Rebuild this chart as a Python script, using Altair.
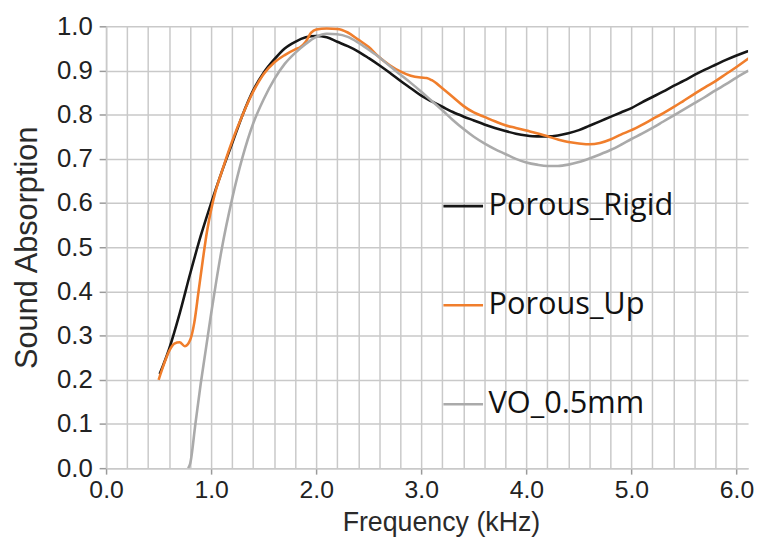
import altair as alt
import pandas as pd

# ---- data ----
rigid_f = [0.51, 0.6, 0.7, 0.8, 0.9, 1.0, 1.1, 1.2, 1.3, 1.4, 1.5, 1.6, 1.7, 1.8, 1.9, 2.0,
           2.1, 2.2, 2.3, 2.4, 2.5, 2.6, 2.7, 2.8, 2.9, 3.0, 3.1, 3.2, 3.3, 3.4, 3.5, 3.6,
           3.7, 3.8, 3.9, 4.0, 4.1, 4.2, 4.3, 4.4, 4.5, 4.6, 4.7, 4.8, 4.9, 5.0, 5.1, 5.2,
           5.3, 5.4, 5.5, 5.6, 5.7, 5.8, 5.9, 6.0, 6.1, 6.2]
rigid_a = [0.213, 0.27, 0.35, 0.44, 0.525, 0.60, 0.67, 0.735, 0.80, 0.855, 0.895, 0.925, 0.95,
           0.965, 0.975, 0.978, 0.975, 0.965, 0.955, 0.943, 0.928, 0.912, 0.895, 0.877, 0.86,
           0.843, 0.83, 0.818, 0.806, 0.796, 0.787, 0.778, 0.770, 0.763, 0.757, 0.753, 0.751,
           0.751, 0.753, 0.758, 0.765, 0.775, 0.785, 0.795, 0.805, 0.815, 0.828, 0.84, 0.852,
           0.865, 0.877, 0.89, 0.902, 0.913, 0.924, 0.934, 0.943, 0.951]

up_f = [0.50, 0.55, 0.6, 0.65, 0.7, 0.75, 0.8, 0.84, 0.88, 0.92, 0.96, 1.0, 1.04, 1.1, 1.2,
        1.3, 1.4, 1.5, 1.6, 1.7, 1.8, 1.85, 1.9, 1.95, 2.0, 2.1, 2.2, 2.3, 2.4, 2.5, 2.6,
        2.7, 2.8, 2.9, 3.0, 3.05, 3.1, 3.2, 3.3, 3.4, 3.5, 3.6, 3.7, 3.8, 3.9, 4.0, 4.1,
        4.2, 4.3, 4.4, 4.5, 4.6, 4.7, 4.8, 4.9, 5.0, 5.1, 5.2, 5.3, 5.4, 5.5, 5.6, 5.7,
        5.8, 5.9, 6.0, 6.1, 6.2]
up_a = [0.20, 0.235, 0.265, 0.282, 0.285, 0.276, 0.29, 0.33, 0.40, 0.47, 0.535, 0.585, 0.625,
        0.67, 0.74, 0.80, 0.852, 0.892, 0.918, 0.935, 0.948, 0.953, 0.965, 0.985, 0.993, 0.995,
        0.994, 0.986, 0.97, 0.953, 0.93, 0.912, 0.898, 0.888, 0.884, 0.883, 0.878, 0.86, 0.84,
        0.82, 0.805, 0.795, 0.785, 0.776, 0.770, 0.764, 0.758, 0.751, 0.744, 0.738, 0.735,
        0.733, 0.736, 0.744, 0.755, 0.765, 0.777, 0.79, 0.803, 0.817, 0.832, 0.847, 0.862,
        0.876, 0.892, 0.908, 0.925, 0.942]

vo_f = [0.78, 0.8, 0.85, 0.9, 0.95, 1.0, 1.05, 1.1, 1.2, 1.3, 1.4, 1.5, 1.6, 1.7, 1.8, 1.9,
        2.0, 2.1, 2.2, 2.3, 2.4, 2.5, 2.6, 2.7, 2.8, 2.9, 3.0, 3.1, 3.2, 3.3, 3.4, 3.5, 3.6,
        3.7, 3.8, 3.9, 4.0, 4.1, 4.2, 4.3, 4.4, 4.5, 4.6, 4.7, 4.8, 4.9, 5.0, 5.1, 5.2, 5.3,
        5.4, 5.5, 5.6, 5.7, 5.8, 5.9, 6.0, 6.1, 6.2]
vo_a = [0.0, 0.01, 0.10, 0.19, 0.27, 0.35, 0.425, 0.495, 0.61, 0.705, 0.78, 0.835, 0.88,
        0.915, 0.94, 0.96, 0.976, 0.983, 0.982, 0.976, 0.963, 0.947, 0.93, 0.91, 0.891, 0.872,
        0.852, 0.831, 0.81, 0.788, 0.768, 0.75, 0.735, 0.722, 0.711, 0.70, 0.692, 0.687,
        0.684, 0.684, 0.687, 0.693, 0.701, 0.71, 0.72, 0.732, 0.745, 0.757, 0.77, 0.784,
        0.798, 0.812, 0.826, 0.84, 0.855, 0.869, 0.884, 0.898, 0.913]

series_names = ["Porous_Rigid", "Porous_Up", "VO_0.5mm"]
series_colors = ["#161616", "#F07E2C", "#AAAAAA"]

x_grid_values = [round(i * 0.2, 1) for i in range(31)]
y_tick_values = [round(i * 0.1, 1) for i in range(11)]

rows = []
for name, fs, As in zip(series_names, [rigid_f, up_f, vo_f], [rigid_a, up_a, vo_a]):
    for order, (f, a) in enumerate(zip(fs, As)):
        rows.append({"series": name, "freq": f, "absorption": a, "order": order})
df = pd.DataFrame(rows)

grid_color = "#c9c9c9"
is_int = "abs(datum.value - round(datum.value)) < 0.01"

chart = alt.Chart(df).mark_line(strokeWidth=2.6, interpolate="monotone", clip=True).encode(
    x=alt.X("freq:Q",
            scale=alt.Scale(domain=[0, 6.11], nice=False, zero=False),
            axis=alt.Axis(values=x_grid_values, title="Frequency (kHz)",
                          labelExpr=f"{is_int} ? format(datum.value, '.1f') : ''",
                          tickSize=6, tickColor="#9a9a9a", tickWidth=1.5,
                          tickOpacity={"condition": {"test": is_int, "value": 1}, "value": 0},
                          labelPadding=4, labelFontSize=25, titleFontSize=27,
                          titleBaseline="alphabetic", titleY=63, titleX=338,
                          titleAlign="center",
                          labelFlush=False, labelOverlap=False)),
    y=alt.Y("absorption:Q",
            scale=alt.Scale(domain=[0, 1], nice=False),
            axis=alt.Axis(values=y_tick_values, format=".1f", title="Sound Absorption",
                          tickSize=7, tickColor="#9a9a9a", tickWidth=1.5,
                          labelPadding=7, labelFontSize=26,
                          titlePadding=13, titleFontSize=31)),
    color=alt.Color("series:N",
                    scale=alt.Scale(domain=series_names, range=series_colors),
                    legend=alt.Legend(title=None, orient="none", legendX=339, legendY=160,
                                      direction="vertical", symbolType="stroke",
                                      symbolSize=1600, symbolStrokeWidth=2.6,
                                      labelFont="Open Sans", labelFontSize=31,
                                      labelColor="#111111", labelOffset=4, labelLimit=0,
                                      rowPadding=63, padding=0)),
    order="order:Q",
).properties(
    width=648, height=446,
    autosize=alt.AutoSizeParams(type="none"),
    padding={"left": 99, "top": 16, "right": 7, "bottom": 70},
    background="white",
).configure_view(stroke=None).configure_axis(
    grid=True, gridColor=grid_color, gridWidth=1.5,
    domainColor=grid_color, domainWidth=1.5,
    labelFont="Liberation Sans", labelColor="#222222",
    titleFont="Liberation Sans", titleColor="#2a2a2a",
    titleFontWeight="normal",
)

chart.save("out.html", embed_options={"renderer": "svg", "actions": False})
